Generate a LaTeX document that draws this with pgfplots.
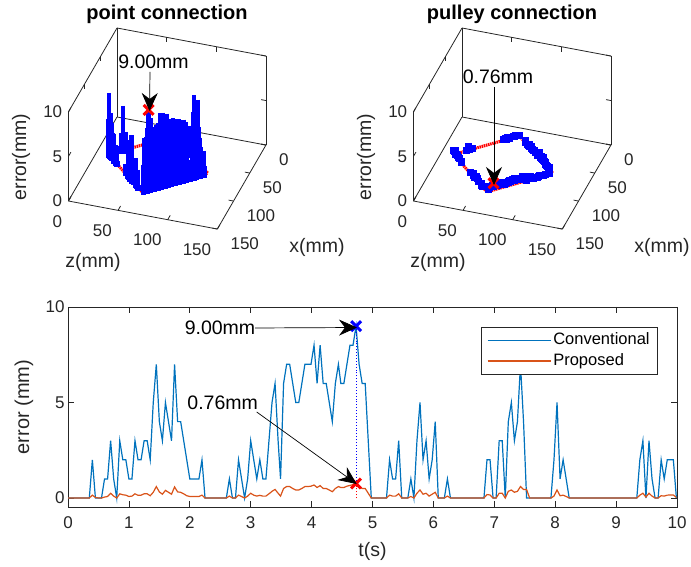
\documentclass[border=0pt]{standalone}
\usepackage{pgfplots}
\usepackage{pgfplotstable}
\usepackage{fontspec}
\setmainfont{Liberation Sans}
\pgfplotsset{compat=1.18}
\usetikzlibrary{arrows.meta}
\definecolor{mblue}{rgb}{0,0.447,0.741}
\definecolor{morange}{rgb}{0.85,0.325,0.098}
\definecolor{axgray}{rgb}{0.15,0.15,0.15}
\pgfplotstableread{
t a b c p
0.00 62 13 0 0
0.05 63 14 0 0
0.10 64 15 0 0
0.15 65 16 0 0
0.20 66 17 0 0
0.25 67 18 0 0
0.30 68 19 0 0
0.35 69 20 0 0
0.40 70 21 2 .15
0.45 71 22 0 .03
0.50 72 23 0 0
0.55 73 24 0 0
0.60 74 25 1 .05
0.65 75 26 1 .08
0.70 76 27 3 .25
0.75 77 28 1 .1
0.80 78 29 0 0
0.85 79 30 3 .22
0.90 80 31 2 .17
0.95 81 32 2 .15
1.00 82 33 1 .08
1.05 83 34 1 .1
1.10 84 35 3 .22
1.15 85 36 2 .14
1.20 86 37 2 .15
1.25 87 38 3 .22
1.30 88 39 3 .22
1.35 89 40 2 .12
1.40 90 41 5 .3
1.45 91 42 7 .6
1.50 92 43 4 .32
1.55 93 44 3 .2
1.60 94 45 5 .4
1.65 95 46 4 .3
1.70 96 47 3 .2
1.75 97 48 7 .58
1.80 98 49 4 .32
1.85 99 50 4 .3
1.90 100 51 3 .22
1.95 101 52 2 .12
2.00 102 53 1 .08
2.05 103 54 1 .08
2.10 104 55 1 .08
2.15 105 56 1 .08
2.20 106 57 2 .15
2.25 107 58 0 0
2.30 108 59 0 0
2.35 109 60 0 0
2.40 110 61 0 0
2.45 111 62 0 0
2.50 112 63 0 0
2.55 111 64 0 0
2.60 110 65 0 0
2.65 109 66 1 .1
2.70 108 67 0 0
2.75 107 68 0 0
2.80 106 69 2 .15
2.85 105 70 1 .08
2.90 104 71 0 0
2.95 103 72 1 .1
3.00 102 73 3 .25
3.05 101 74 2 .15
3.10 100 75 1 .1
3.15 99 76 2 .14
3.20 98 77 1 .1
3.25 97 78 1 .1
3.30 96 79 3 .22
3.35 95 80 5 .35
3.40 94 81 6 .45
3.45 93 82 3 .25
3.49 92 83 1 .1
3.54 91 84 6 .5
3.59 90 85 7 .6
3.64 89 86 7 .6
3.69 88 87 6 .5
3.74 87 88 5 .42
3.79 86 89 5 .42
3.84 85 90 6 .5
3.89 84 91 7 .6
3.94 83 92 7 .6
3.99 82 93 7 .62
4.04 81 94 8 .68
4.09 80 95 6 .55
4.14 79 96 8 .65
4.19 78 97 6 .5
4.24 77 98 6 .5
4.29 76 99 5 .42
4.34 75 100 4 .33
4.39 74 101 6 .5
4.44 73 102 7 .6
4.48 72 103 6 .55
4.53 71 104 6 .55
4.58 70 105 7 .62
4.63 69 106 8 .66
4.68 68 107 8 .7
4.73 67 108 9 .76
4.78 66 109 7 .6
4.83 65 110 6 .5
4.88 64 111 6 .5
4.93 63 112 3 .25
4.98 62 113 0 0
5.03 61 112 0 0
5.08 60 111 0 0
5.13 59 110 0 0
5.18 58 109 0 0
5.23 57 108 0 0
5.28 56 107 2 .15
5.33 55 106 1 .1
5.38 54 105 1 .1
5.43 53 104 3 .22
5.48 52 103 0 0
5.53 51 102 0 0
5.58 50 101 0 0
5.63 49 100 1 .08
5.68 48 99 0 0
5.73 47 98 3 .25
5.78 46 97 5 .42
5.83 45 96 2 .2
5.88 44 95 3 .25
5.93 43 94 1 .1
5.98 42 93 2 .2
6.03 41 92 4 .3
6.08 40 91 0 0
6.13 39 90 0 0
6.18 38 89 0 0
6.23 37 88 1 .1
6.28 36 87 0 0
6.33 35 86 0 0
6.38 34 85 0 0
6.43 33 84 0 0
6.48 32 83 0 0
6.53 31 82 0 0
6.58 30 81 0 0
6.63 29 80 0 0
6.68 28 79 0 0
6.73 27 78 0 0
6.78 26 77 0 0
6.83 25 76 0 0
6.88 24 75 2 .18
6.93 23 74 2 .16
6.98 22 73 0 0
7.03 21 72 0 0
7.08 20 71 3 .25
7.13 19 70 3 .25
7.18 18 69 0 0
7.23 17 68 4 .35
7.28 16 67 5 .42
7.33 15 66 3 .3
7.38 14 65 4 .35
7.43 13 64 7 .6
7.48 12 63 4 .45
7.53 13 62 0 .45
7.58 14 61 0 0
7.63 15 60 0 0
7.68 16 59 0 0
7.73 17 58 0 0
7.78 18 57 0 0
7.83 19 56 0 0
7.88 20 55 0 0
7.93 21 54 0 0
7.98 22 53 2 .1
8.03 23 52 5 .42
8.08 24 51 1 .12
8.13 25 50 2 .15
8.18 26 49 1 .08
8.23 27 48 0 0
8.28 28 47 0 0
8.33 29 46 0 0
8.38 30 45 0 0
8.43 31 44 0 0
8.49 32 43 0 0
8.54 33 42 0 0
8.59 34 41 0 0
8.64 35 40 0 0
8.69 36 39 0 0
8.74 37 38 0 0
8.79 38 37 0 0
8.84 39 36 0 0
8.89 40 35 0 0
8.94 41 34 0 0
8.99 42 33 0 0
9.04 43 32 0 0
9.09 44 31 0 0
9.14 45 30 0 0
9.19 46 29 0 0
9.24 47 28 0 0
9.29 48 27 0 0
9.34 49 26 0 0
9.39 50 25 2 .15
9.44 51 24 3 .25
9.49 52 23 0 .05
9.54 53 22 3 .25
9.59 54 21 1 .1
9.64 55 20 0 0
9.69 56 19 0 0
9.74 57 18 2 .12
9.79 58 17 1 .1
9.84 59 16 2 .15
9.89 60 15 2 .16
9.94 61 14 2 .16
9.99 62 13 0 .03
}\datatable
\newcommand{\tickfont}{\fontsize{17}{20}\selectfont}
\newcommand{\labfont}{\fontsize{19.5}{22}\selectfont}
\pgfplotsset{
  common/.style={
    axis line style={axgray,line width=0.8pt},
    tick style={axgray,line width=0.8pt},
    tick label style={font=\tickfont,text=axgray},
    /pgf/number format/assume math mode=true,
    tick align=inside,
  },
  threed/.style={
    common,
    anchor=origin,
    y={(0.993pt,-0.187pt)},
    x={(-0.324pt,-0.56pt)},
    z={(0pt,8.9pt)},
    xmin=0,xmax=150,ymin=0,ymax=150,zmin=0,zmax=10,
    xtick={0,50,100,150},ytick={0,50,100,150},ztick={0,5,10},
    xtick pos=right,ytick pos=right,ztick pos=right,
    xticklabel pos=left,yticklabel pos=left,zticklabel pos=left,
    major tick length=5pt,
    y tick label style={anchor=north east,xshift=-5pt,yshift=-13pt,inner sep=1pt},
    x tick label style={anchor=north west,xshift=12pt,yshift=-7pt,inner sep=1pt},
    z tick label style={anchor=east,xshift=-5pt,inner sep=1pt},
    clip=false,
  },
  bars/.style={draw=none,mark=none,
    error bars/.cd,z dir=minus,z explicit,error mark=none,
    error bar style={blue,line width=4.5pt}},
}
\begin{document}
\begin{tikzpicture}[x=1pt,y=1pt]
\useasboundingbox (0,0) rectangle (691,567);
% left 3D
\begin{axis}[threed,at={(117pt,450pt)}]
\addplot3[red,line width=3pt,dash pattern=on 1.5pt off 0.7pt] table[x=b,y=a,z expr=0] {\datatable};
\addplot3[bars] table[x=b,y=a,z=c,z error=c] {\datatable};
\addplot3[blue,only marks,mark=square*,mark size=2.4pt,restrict expr to domain={\thisrow{c}}{0.5:20}] table[x=b,y=a,z expr=0] {\datatable};
\addplot3[red,only marks,mark=x,mark size=7pt,mark options={line width=3pt}] coordinates {(108,67,9)};
\end{axis}
% right 3D
\begin{axis}[threed,at={(462pt,450pt)}]
\addplot3[red,line width=3pt,dash pattern=on 1.5pt off 0.7pt] table[x=b,y=a,z expr=0] {\datatable};
\addplot3[bars] table[x=b,y=a,z=p,z error=p] {\datatable};
\addplot3[blue,only marks,mark=square*,mark size=3pt,restrict z to domain=0.01:20] table[x=b,y=a,z=p] {\datatable};
\addplot3[red,only marks,mark=x,mark size=7pt,mark options={line width=3pt}] coordinates {(108,67,0.76)};
\end{axis}
% bottom
\begin{axis}[common,at={(68pt,60pt)},anchor=south west,width=609pt,height=200pt,scale only axis,
  xmin=0,xmax=10,ymin=-0.47,ymax=10,xtick={0,1,...,10},ytick={0,5,10},
  major tick length=6pt,
  x tick label style={yshift=-6.5pt},
  legend style={at={(480.7pt-68pt,567pt-326.7pt-60pt)},anchor=north west,draw=axgray,line width=0.8pt,font=\fontsize{16.5}{19}\selectfont,
    inner xsep=6pt,inner ysep=3.3pt,row sep=0.7pt,
    nodes={inner ysep=1pt,text height=13pt,text depth=5pt},
    cells={anchor=west,text=black}},
  legend image code/.code={\path (-1pt,0pt) -- (62pt,0pt);\draw[#1,line width=1.2pt] (0pt,0pt) -- (56pt,0pt);},
  legend cell align=left,
]
\addplot[mblue,line width=1.2pt] table[x=t,y=c] {\datatable};
\addplot[morange,line width=1.2pt] table[x=t,y=p] {\datatable};
\legend{Conventional,Proposed}
\addplot[blue,dotted,line width=0.9pt,forget plot] coordinates {(4.73,0) (4.73,9)};
\addplot[red,dotted,line width=0.9pt,forget plot] coordinates {(4.73,0) (4.73,0.76)};
\addplot[blue,only marks,mark=x,mark size=7pt,mark options={line width=3pt},forget plot] coordinates {(4.73,9)};
\addplot[red,only marks,mark=x,mark size=7pt,mark options={line width=3pt},forget plot] coordinates {(4.73,0.76)};
\end{axis}
% labels (y measured from the top)
\tikzset{lab/.style={font=\labfont,text=axgray,inner sep=0pt},
 ann/.style={black,line width=0.7pt,-{Stealth[length=18pt,width=16pt,inset=6pt]}}}
\node[font=\bfseries\fontsize{20}{22}\selectfont] at (167,567-14) {point connection};
\node[font=\bfseries\fontsize{20}{22}\selectfont] at (512,567-14) {pulley connection};
\foreach \dx in {0,345}{
 \node[lab] at (93+\dx,567-262) {z(mm)};
 \node[lab] at (317+\dx,567-247) {x(mm)};
 \node[lab,rotate=90] at (21+\dx,567-157) {error(mm)};
}
\node[lab,text=black] at (153.5,567-62) {9.00mm};
\draw[ann] (150,567-72) -- (149.5,567-111);
\node[lab,text=black] at (498,567-77) {0.76mm};
\draw[ann] (494,567-87) -- (494,567-185);
\node[lab,text=black] at (220,567-328) {9.00mm};
\draw[ann] (255,567-328) -- (357,567-327.5);
\node[lab,text=black] at (222.7,567-403) {0.76mm};
\draw[ann] (256.7,567-412) -- (356.7,567-484);
\node[lab] at (372.5,567-551) {t(s)};
\node[lab,rotate=90,font=\fontsize{20}{22}\selectfont] at (24,567-407) {error (mm)};
\end{tikzpicture}
\end{document}
